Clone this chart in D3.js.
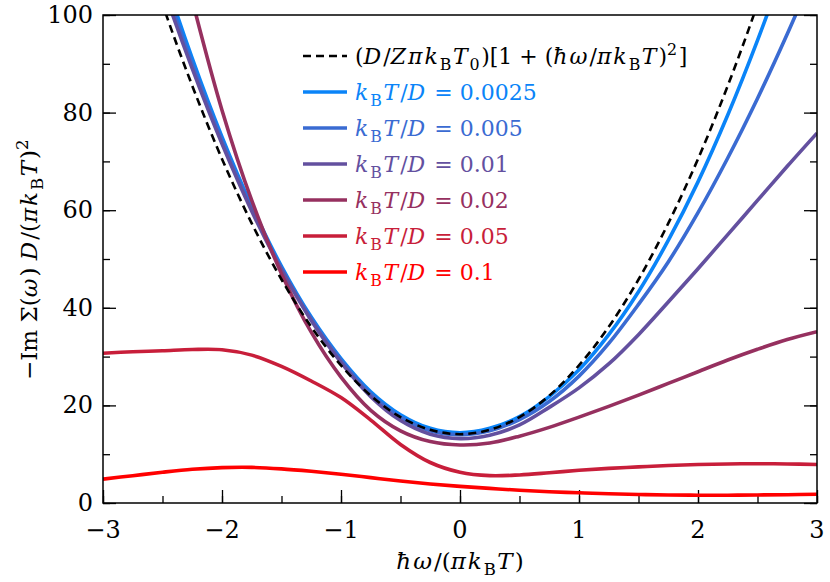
<!DOCTYPE html>
<html lang="en">
<head>
  <script src="https://d3js.org/d3.v7.min.js"></script>
  <style>
    body {
      margin: 0;
      background: #fff;
    }

    text {
      font-family: "DejaVu Serif", serif;
      fill: #000;
    }

    .axis path,
    .axis line {
      stroke: #000;
    }
  </style>
</head>
<body>
<div id="chart"></div>
<script>
  // x grid, hbar*omega/(pi kB T)
  var omega = [-2.75, -2.5, -2.25, -2, -1.75, -1.5, -1.25, -1, -0.75, -0.5, -0.25, 0,
    0.25, 0.5, 0.75, 1, 1.25, 1.5, 1.75, 2, 2.25, 2.5, 2.75, 3];
  var omegaFull = [-3].concat(omega);

  // values
  var fitCurve = [120.7, 102.2, 85.5, 70.5, 57.3, 45.8, 36.1, 28.2, 22.0, 17.6, 15.0, 14.1,
    15.0, 17.6, 22.0, 28.2, 36.1, 45.8, 57.3, 70.5, 85.5, 102.2, 120.7, 141.0];
  var t0025 = [129.0, 109.1, 91.1, 75.0, 60.8, 48.5, 38.1, 29.6, 22.8, 18.1, 15.3, 14.4,
    15.3, 17.7, 21.8, 27.3, 34.5, 43.3, 53.8, 65.8, 79.5, 94.8, 111.6, 130.1];
  var t005 = [127.0, 107.5, 90.0, 74.3, 60.3, 48.1, 37.8, 29.3, 22.4, 17.6, 14.8, 14.0,
    14.8, 17.1, 20.8, 26.0, 32.7, 40.7, 49.4, 59.5, 70.7, 82.9, 96.1, 110.2];
  var t01 = [125.0, 106.0, 89.0, 73.6, 59.8, 47.8, 37.4, 28.8, 21.8, 16.9, 14.1, 13.2,
    13.9, 16.0, 19.6, 23.6, 28.5, 34.5, 41.2, 48.0, 55.0, 62.0, 69.0, 75.8];
  var t02 = [128.0, 103.0, 80.5, 62.0, 47.0, 35.0, 25.8, 19.0, 14.8, 12.6, 11.9,
    12.3, 13.7, 15.5, 17.6, 19.8, 22.1, 24.5, 26.9, 29.3, 31.5, 33.5, 35.1];
  var t05 = [30.7, 31.0, 31.2, 31.45, 31.4, 30.3, 28.0, 25.0, 21.6, 17.0, 12.0, 8.3, 6.3,
    5.6, 5.75, 6.2, 6.7, 7.1, 7.4, 7.7, 7.9, 8.0, 8.05, 8.0, 7.9];
  var t1 = [4.9, 5.6, 6.3, 6.9, 7.25, 7.3, 7.0, 6.5, 5.9, 5.2, 4.5, 3.9, 3.4,
    3.0, 2.6, 2.3, 2.1, 1.9, 1.75, 1.65, 1.6, 1.6, 1.65, 1.7, 1.8];

  var labels = ["0.0025", "0.005", "0.01", "0.02", "0.05", "0.1"];
  var colors = ["#0a84f8", "#3a6bd2", "#63509f", "#96305f", "#c81e3a", "#ff0000"];
  var seriesX = [omega, omega, omega, omega.slice(1), omegaFull, omegaFull];
  var seriesY = [t0025, t005, t01, t02, t05, t1];

  var xTicks = [-3, -2, -1, 0, 1, 2, 3];
  var yTicks = [0, 20, 40, 60, 80, 100];

  var margin = {top: 15, right: 13, bottom: 79, left: 103},
          width = 830 - margin.left - margin.right,
          height = 582 - margin.top - margin.bottom;

  var svg = d3.select("#chart").append("svg")
          .attr("width", 830)
          .attr("height", 582);

  var g = svg.append("g")
          .attr("transform", "translate(" + margin.left + "," + margin.top + ")");

  var x = d3.scaleLinear().domain([-3, 3]).range([0, width]);
  var y = d3.scaleLinear().domain([0, 100]).range([height, 0]);

  g.append("clipPath").attr("id", "clip")
          .append("rect").attr("width", width).attr("height", height);

  // write math-ish labels with tspans: i = italic, r = roman, sub / sup
  function mathText(sel, parts, sub, sup) {
    var shift = 0;
    parts.forEach(function (p) {
      var ts = sel.append("tspan").text(p[0]);
      var target = p[1] === "sub" ? sub : p[1] === "sup" ? -sup : 0;
      if (target !== shift) {
        ts.attr("dy", target - shift);
        shift = target;
      }
      if (p[1] === "i") ts.style("font-style", "italic").style("letter-spacing", "2px");
      if (p[1] === "sub" || p[1] === "sup") ts.style("font-size", "72%").style("letter-spacing", "1.5px");
    });
  }

  function tickAxis(axis, vals, size) {
    return axis.tickValues(vals).tickSize(size).tickFormat("");
  }

  function noDomain(s) { s.select(".domain").remove(); }

  var xMinor = d3.range(-3, 3.01, 0.5);
  var yMinor = d3.range(0, 100.1, 10);

  // minor ticks first, then major, all pointing inwards
  g.append("g").attr("class", "axis")
          .attr("transform", "translate(0," + height + ")")
          .call(tickAxis(d3.axisTop(x), xMinor, 7)).call(noDomain);
  g.append("g").attr("class", "axis")
          .attr("transform", "translate(0," + height + ")")
          .call(tickAxis(d3.axisTop(x), xTicks, 13)).call(noDomain);
  g.append("g").attr("class", "axis")
          .call(tickAxis(d3.axisRight(y), yMinor, 7)).call(noDomain);
  g.append("g").attr("class", "axis")
          .call(tickAxis(d3.axisRight(y), yTicks, 13)).call(noDomain);
  g.append("g").attr("class", "axis")
          .attr("transform", "translate(" + width + ",0)")
          .call(tickAxis(d3.axisLeft(y), yMinor, 7)).call(noDomain);
  g.append("g").attr("class", "axis")
          .attr("transform", "translate(" + width + ",0)")
          .call(tickAxis(d3.axisLeft(y), yTicks, 13)).call(noDomain);
  g.selectAll(".axis line").attr("stroke-width", 1.3);

  // tick labels
  g.selectAll(".xlab").data(xTicks).enter().append("text")
          .attr("x", function (d) { return x(d); })
          .attr("y", height + 35)
          .attr("text-anchor", "middle")
          .style("font-size", "24px")
          .text(function (d) { return d < 0 ? "\u2212" + (-d) : d; });

  g.selectAll(".ylab").data(yTicks).enter().append("text")
          .attr("x", -10)
          .attr("y", function (d) { return y(d) + 8; })
          .attr("text-anchor", "end")
          .style("font-size", "24px")
          .text(function (d) { return d; });

  // curves
  var line = d3.line().curve(d3.curveCatmullRom.alpha(0.5));
  var plot = g.append("g").attr("clip-path", "url(#clip)");

  seriesY.forEach(function (vals, i) {
    var xs = seriesX[i];
    plot.append("path")
            .attr("d", line(vals.map(function (v, j) { return [x(xs[j]), y(v)]; })))
            .attr("fill", "none")
            .attr("stroke", colors[i])
            .attr("stroke-width", 3.6);
  });

  plot.append("path")
          .attr("d", line(fitCurve.map(function (v, j) { return [x(omega[j]), y(v)]; })))
          .attr("fill", "none")
          .attr("stroke", "#000")
          .attr("stroke-width", 2.6)
          .attr("stroke-dasharray", "8,5");

  // frame
  g.append("rect")
          .attr("width", width).attr("height", height)
          .attr("fill", "none").attr("stroke", "#000").attr("stroke-width", 1.5);

  // legend
  var legX = 200, legY = 41, legStep = 36;
  var leg = g.append("g");
  leg.append("line")
          .attr("x1", legX).attr("x2", legX + 44)
          .attr("y1", legY).attr("y2", legY)
          .attr("stroke", "#000").attr("stroke-width", 2.6).attr("stroke-dasharray", "8,5");
  var t0 = leg.append("text").attr("x", legX + 52).attr("y", legY + 8).style("font-size", "22px");
  mathText(t0, [["(", "r"], ["D", "i"], ["/", "r"], ["Z", "i"], ["\u03c0", "i"], ["k", "i"], ["B", "sub"],
    ["T", "i"], ["0", "sub"], [")[1 + (", "r"], ["\u0127\u03c9", "i"], ["/", "r"], ["\u03c0", "i"],
    ["k", "i"], ["B", "sub"], ["T", "i"], [")", "r"], ["2", "sup"], ["]", "r"]], 6, 9);

  labels.forEach(function (lab, i) {
    var yy = legY + legStep * (i + 1);
    leg.append("line")
            .attr("x1", legX).attr("x2", legX + 44)
            .attr("y1", yy).attr("y2", yy)
            .attr("stroke", colors[i]).attr("stroke-width", 3.6);
    var t = leg.append("text").attr("x", legX + 52).attr("y", yy + 8)
            .style("font-size", "22px").style("fill", colors[i]);
    mathText(t, [["k", "i"], ["B", "sub"], ["T", "i"], ["/", "r"], ["D", "i"], [" = " + lab, "r"]], 6, 9);
    t.selectAll("tspan").style("fill", colors[i]);
  });

  // axis titles
  var xt = svg.append("text")
          .attr("x", margin.left + width / 2)
          .attr("y", 569)
          .attr("text-anchor", "middle")
          .style("font-size", "23px");
  mathText(xt, [["\u0127\u03c9", "i"], ["/(", "r"], ["\u03c0", "i"], ["k", "i"], ["B", "sub"], ["T", "i"], [")", "r"]], 6, 9);

  var yt = svg.append("text")
          .attr("transform", "translate(37," + (margin.top + height / 2) + ") rotate(-90)")
          .attr("text-anchor", "middle")
          .style("font-size", "23px");
  mathText(yt, [["\u2212Im \u03a3(", "r"], ["\u03c9", "i"], [") ", "r"], ["D", "i"], ["/(", "r"],
    ["\u03c0", "i"], ["k", "i"], ["B", "sub"], ["T", "i"], [")", "r"], ["2", "sup"]], 6, 9);
</script>
</body>
</html>
